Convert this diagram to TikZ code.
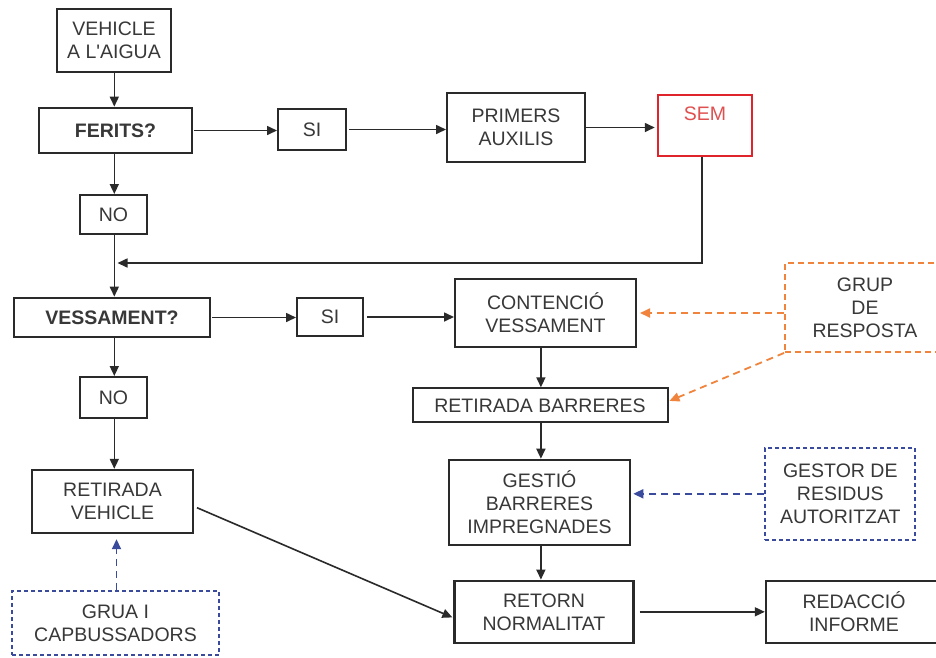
\documentclass[tikz,border=0pt]{standalone}
\usepackage{fontspec}
\newfontfamily\arialf{Liberation Sans}
\usetikzlibrary{arrows.meta}
\definecolor{linec}{HTML}{2A2A2A}
\definecolor{textc}{HTML}{383838}
\definecolor{redc}{HTML}{E0242C}
\definecolor{redt}{HTML}{E05050}
\definecolor{orangec}{HTML}{F0843C}
\definecolor{bluec}{HTML}{3A4A9C}
\tikzset{
  box/.style={draw=linec, line width=2pt, fill=white, text=textc, align=center,
    inner sep=0pt, font=\arialf\fontsize{19.5}{23}\selectfont},
  boldbox/.style={box, line width=2.8pt, font=\arialf\bfseries\fontsize{19.5}{23}\selectfont},
  redbox/.style={box, draw=redc, line width=2.5pt, text=redt},
  orbox/.style={box, draw=orangec, line width=1.9pt, dash pattern=on 6pt off 4pt},
  blbox/.style={box, draw=bluec, line width=1.9pt, dash pattern=on 4pt off 3pt},
  conn/.style={draw=linec, line width=1.6pt, -{Triangle[length=10pt,width=9pt]}},
  orconn/.style={draw=orangec, line width=1.8pt, dash pattern=on 7pt off 5pt, -{Triangle[length=10pt,width=9pt]}},
  blconn/.style={draw=bluec, line width=1.8pt, dash pattern=on 7pt off 5pt, -{Triangle[length=10pt,width=9pt]}},
  sz/.style 2 args={minimum width=#1pt, minimum height=#2pt}
}
\begin{document}
\begin{tikzpicture}[x=1pt,y=-1pt]
\path[use as bounding box] (0,0) rectangle (936,657);
\clip (0,0) rectangle (936,657);
\fill[white] (0,0) rectangle (936,657);

\node[box, sz={114}{63}] (vehicle) at (114,40.5) {VEHICLE\\A L'AIGUA};
\node[boldbox, sz={153}{45}] (ferits) at (115.5,130.5) {FERITS?};
\node[box, sz={68}{41}] (si1) at (312,129.5) {SI};
\node[box, sz={138}{69}] (primers) at (516,127.5) {PRIMERS\\AUXILIS};
\node[redbox, sz={94}{61}] (sem) at (705,125.5) {SEM\\\mbox{}};
\node[box, sz={67}{39}] (no1) at (113.5,214.5) {NO};
\node[boldbox, sz={196}{39}] (vess) at (112,317.5) {VESSAMENT?};
\node[box, sz={66}{38}] (si2) at (330,317) {SI};
\node[box, sz={181}{68}] (cont) at (545.5,313) {CONTENCIÓ\\VESSAMENT};
\node[orbox, sz={160}{89}] (grup) at (865,307.5) {GRUP\\DE\\RESPOSTA};
\node[box, sz={67}{41}] (no2) at (113.5,397.5) {NO};
\node[box, sz={255}{34}] (rb) at (540,405.3) {RETIRADA BARRERES};
\node[box, line width=2.4pt, sz={161}{63}] (rv) at (112.5,501.5) {RETIRADA\\VEHICLE};
\node[box, line width=2.6pt, sz={181}{85}] (gestio) at (539.5,502.5) {GESTIÓ\\BARRERES\\IMPREGNADES};
\node[blbox, sz={150}{92}] (gestor) at (840.3,493.8) {GESTOR DE\\RESIDUS\\AUTORITZAT};
\node[blbox, sz={207}{64}] (grua) at (115.5,623) {GRUA I\\CAPBUSSADORS};
\node[box, line width=2.4pt, sz={179}{62}] (retorn) at (544,611.8) {RETORN\\NORMALITAT};
\node[box, line width=2.4pt, sz={176}{62}] (redac) at (854,612) {REDACCIÓ\\INFORME};

\coordinate (tx) at (114.3,0);
\coordinate (ret) at (117.5,263);
\coordinate (cx) at (540.9,0);

% trunk
\draw[conn] (tx |- vehicle.south) -- (tx |- ferits.north);
\draw[conn] (tx |- ferits.south) -- (tx |- no1.north);
\draw[draw=linec, line width=1.6pt] (tx |- no1.south) -- (tx |- ret);
\draw[conn] (tx |- ret) -- (tx |- vess.north);
\draw[conn] (tx |- vess.south) -- (tx |- no2.north);
\draw[conn] (tx |- no2.south) -- (tx |- rv.north);

% horizontal
\draw[conn, shorten <=1pt] (ferits.east) -- (ferits.east -| si1.west);
\draw[conn, shorten <=2pt] (si1.east) -- (si1.east -| primers.west);
\draw[conn, shorten >=2pt] (primers.east) -- (primers.east -| sem.west);
\draw[conn] ([xshift=-3pt]sem.south) |- (ret);
\draw[conn, shorten <=1pt] (vess.east) -- (vess.east -| si2.west);
\draw[conn, shorten <=3pt] (si2.east) -- (si2.east -| cont.west);

% right column
\draw[conn] (cx |- cont.south) -- (cx |- rb.north);
\draw[conn] (cx |- rb.south) -- (cx |- gestio.north);
\draw[conn] (cx |- gestio.south) -- (cx |- retorn.north);
\draw[conn, shorten <=5pt] (retorn.east) -- (retorn.east -| redac.west);
\draw[conn, shorten <=3pt, shorten >=1pt] ([yshift=-5pt]rv.east) -- ([yshift=-6pt]retorn.west);

% dashed helpers
\draw[orconn, shorten >=3pt] (grup.west |- cont.east) -- (cont.east);
\draw[orconn, shorten >=1pt] (grup.south west) -- ([yshift=4pt]rb.east);
\draw[blconn, shorten >=2pt] (gestor.west) -- (gestor.west -| gestio.east);
\draw[blconn, shorten >=5pt] ([xshift=1pt]grua.north) -- ([xshift=1pt]grua.north |- rv.south);
\end{tikzpicture}
\end{document}
